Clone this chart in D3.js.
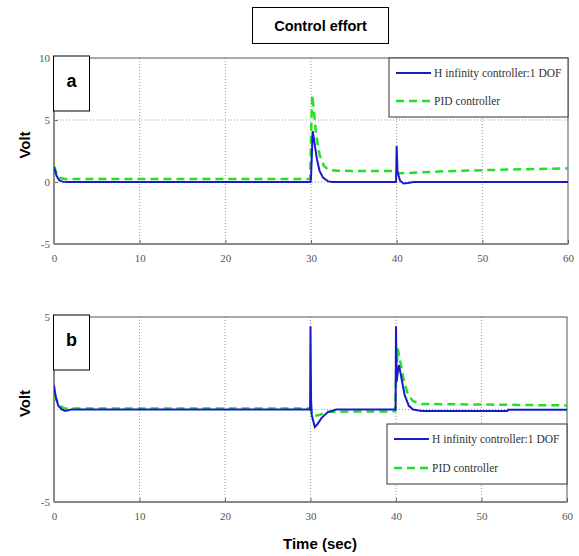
<!DOCTYPE html>
<html><head><meta charset="utf-8">
<script src="https://cdn.jsdelivr.net/npm/d3@7"></script>
<style>body{margin:0;background:#fff}svg{display:block}</style>
</head><body>
<script>
// ---- data ----
const xTicks = [0, 10, 20, 30, 40, 50, 60];
const yTicksA = [-5, 0, 5, 10];
const yTicksB = [-5, 5];
const seriesNames = ["H infinity controller:1 DOF", "PID controller"];

const hinfA_t = [0, 0.3, 0.6, 1.0, 1.5, 29.95, 30.0, 30.2, 30.4, 30.7, 31.0, 31.4, 32.0, 32.5, 39.93, 40.0, 40.1, 40.4, 40.8, 41.3, 42.0, 60];
const hinfA_v = [1.2, 0.5, 0.15, 0.03, 0, 0, 0.3, 4.1, 3.2, 1.8, 0.9, 0.35, 0.05, 0, 0, 2.9, 0.8, 0.1, -0.12, -0.08, 0, 0];
const pidA_t = [0, 0.3, 0.7, 1.2, 29.9, 30.05, 30.15, 30.3, 30.6, 31.0, 31.5, 32.0, 33.0, 39.9, 40.3, 41.0, 45, 50, 55, 60];
const pidA_v = [1.3, 0.7, 0.35, 0.25, 0.25, 5.0, 7.0, 6.0, 3.8, 2.2, 1.3, 1.0, 0.9, 0.88, 0.7, 0.72, 0.85, 0.95, 1.03, 1.1];

const hinfB_t = [0, 0.2, 0.5, 0.9, 1.3, 2.0, 29.95, 30.0, 30.07, 30.15, 30.5, 30.8, 31.3, 32.0, 33.0, 39.95, 40.0, 40.08, 40.2, 40.35, 40.6, 41.0, 41.5, 42.0, 43.0, 53.0, 53.1, 60];
const hinfB_v = [1.3, 0.7, 0.2, 0, -0.08, 0, 0, 4.5, 0.5, -0.3, -0.95, -0.8, -0.45, -0.15, 0, 0, 4.5, 1.5, 2.0, 2.4, 1.8, 0.8, 0.2, 0, -0.08, -0.08, -0.02, -0.02];
const pidB_t = [0, 0.3, 0.7, 1.2, 29.95, 30.15, 30.5, 31.0, 32.0, 39.9, 40.0, 40.2, 40.5, 40.9, 41.4, 42.0, 43.0, 60];
const pidB_v = [0.8, 0.5, 0.2, 0.06, 0.06, -0.2, -0.35, -0.3, -0.12, -0.1, 1.5, 3.3, 2.6, 1.6, 0.8, 0.45, 0.3, 0.22];

// ---- drawing ----
const W = 579, H = 556;
const svg = d3.select("body").append("svg").attr("width", W).attr("height", H);
const blue = "#1a1acc", green = "#22e022";

function panel(cfg) {
  const x = d3.scaleLinear().domain([0, 60]).range([cfg.x0, cfg.x1]);
  const y = d3.scaleLinear().domain(cfg.yDom).range([cfg.y1, cfg.y0]);
  const g = svg.append("g");
  const cid = "clip" + cfg.id;
  g.append("clipPath").attr("id", cid).append("rect")
    .attr("x", cfg.x0).attr("y", cfg.y0).attr("width", cfg.x1 - cfg.x0).attr("height", cfg.y1 - cfg.y0);
  // grid
  g.selectAll(".vg").data(xTicks.filter(d => d > 0 && d < 60)).enter().append("line")
    .attr("x1", d => x(d)).attr("x2", d => x(d)).attr("y1", cfg.y0).attr("y2", cfg.y1)
    .attr("stroke", "#999").attr("stroke-width", 1).attr("stroke-dasharray", "1,2");
  g.selectAll(".hg").data(cfg.hGrid).enter().append("line")
    .attr("x1", cfg.x0).attr("x2", cfg.x1).attr("y1", d => y(d)).attr("y2", d => y(d))
    .attr("stroke", "#999").attr("stroke-width", 1).attr("stroke-dasharray", "1,2");
  // axes
  const fmt = d => String(d);
  const xa = g.append("g").attr("transform", `translate(0,${cfg.y1})`)
    .call(d3.axisBottom(x).tickValues(xTicks).tickSize(-4).tickPadding(10).tickFormat(fmt));
  const ya = g.append("g").attr("transform", `translate(${cfg.x0},0)`)
    .call(d3.axisLeft(y).tickValues(cfg.yTicks).tickSize(-4).tickPadding(4).tickFormat(fmt));
  [xa, ya].forEach(a => {
    a.select(".domain").remove();
    a.selectAll("line").attr("stroke", "#666");
    a.selectAll("text").attr("font-family", "Liberation Serif, serif").attr("font-size", 11).attr("fill", "#555");
  });
  // frame
  g.append("rect").attr("x", cfg.x0).attr("y", cfg.y0).attr("width", cfg.x1 - cfg.x0).attr("height", cfg.y1 - cfg.y0)
    .attr("fill", "none").attr("stroke", "#555").attr("stroke-width", 1);
  g.append("line").attr("x1", cfg.x0).attr("x2", cfg.x0).attr("y1", cfg.y0).attr("y2", cfg.y1)
    .attr("stroke", "#888").attr("stroke-width", 2);
  g.append("line").attr("x1", cfg.x0).attr("x2", cfg.x1).attr("y1", cfg.y1).attr("y2", cfg.y1)
    .attr("stroke", "#888").attr("stroke-width", 2);
  // lines
  const line = d3.line().x(d => x(d[0])).y(d => y(d[1]));
  const lg = g.append("g").attr("clip-path", `url(#${cid})`);
  lg.append("path").datum(d3.zip(cfg.pt, cfg.pv)).attr("d", line)
    .attr("fill", "none").attr("stroke", green).attr("stroke-width", 2.5).attr("stroke-dasharray", "8,5");
  lg.append("path").datum(d3.zip(cfg.ht, cfg.hv)).attr("d", line)
    .attr("fill", "none").attr("stroke", blue).attr("stroke-width", 2);
  // legend
  const L = cfg.leg;
  const lgd = g.append("g");
  lgd.append("rect").attr("x", L.x).attr("y", L.y).attr("width", L.w).attr("height", L.h)
    .attr("fill", "#fff").attr("stroke", "#333").attr("stroke-width", 1);
  [[blue, null, 2], [green, "8,5", 2.5]].forEach((s, i) => {
    const yy = L.y + L.r[i];
    lgd.append("line").attr("x1", L.x + 7).attr("x2", L.x + 42).attr("y1", yy).attr("y2", yy)
      .attr("stroke", s[0]).attr("stroke-width", s[2]).attr("stroke-dasharray", s[1]);
    lgd.append("text").attr("x", L.x + 45).attr("y", yy + 4).text(seriesNames[i])
      .attr("font-family", "Liberation Serif, serif").attr("font-size", 11.5).attr("fill", "#333");
  });
  // panel label
  g.append("rect").attr("x", cfg.x0 - 0.5).attr("y", cfg.y0 - 2).attr("width", 36).attr("height", 55)
    .attr("fill", "#fff").attr("stroke", "#000").attr("stroke-width", 1);
  g.append("text").attr("x", cfg.x0 + 17.5).attr("y", cfg.y0 + 29).attr("text-anchor", "middle")
    .attr("font-family", "Liberation Sans, Arial, sans-serif").attr("font-weight", "bold").attr("font-size", 18)
    .text(cfg.label);
  // y label
  g.append("text").attr("transform", `translate(30,${(cfg.y0 + cfg.y1) / 2 - 6}) rotate(-90)`)
    .attr("text-anchor", "middle").attr("font-family", "Liberation Sans, Arial, sans-serif")
    .attr("font-weight", "bold").attr("font-size", 15).text("Volt");
}

panel({id: "a", x0: 54, x1: 568, y0: 58, y1: 244, yDom: [-5, 10], yTicks: yTicksA, hGrid: [0, 5],
  ht: hinfA_t, hv: hinfA_v, pt: pidA_t, pv: pidA_v, label: "a",
  leg: {x: 389, y: 58, w: 179, h: 59, r: [15, 43]}});
panel({id: "b", x0: 54, x1: 567, y0: 317, y1: 502, yDom: [-5, 5], yTicks: yTicksB, hGrid: [0],
  ht: hinfB_t, hv: hinfB_v, pt: pidB_t, pv: pidB_v, label: "b",
  leg: {x: 387, y: 424, w: 180, h: 60, r: [15, 44]}});

// title
svg.append("rect").attr("x", 252.5).attr("y", 7.5).attr("width", 136).attr("height", 36)
  .attr("fill", "#fff").attr("stroke", "#000").attr("stroke-width", 1);
svg.append("text").attr("x", 320.5).attr("y", 31).attr("text-anchor", "middle")
  .attr("font-family", "Liberation Sans, Arial, sans-serif").attr("font-weight", "bold").attr("font-size", 14.5)
  .text("Control effort");
// x label
svg.append("text").attr("x", 320).attr("y", 549).attr("text-anchor", "middle")
  .attr("font-family", "Liberation Sans, Arial, sans-serif").attr("font-weight", "bold").attr("font-size", 15)
  .text("Time (sec)");
</script>
</body></html>
